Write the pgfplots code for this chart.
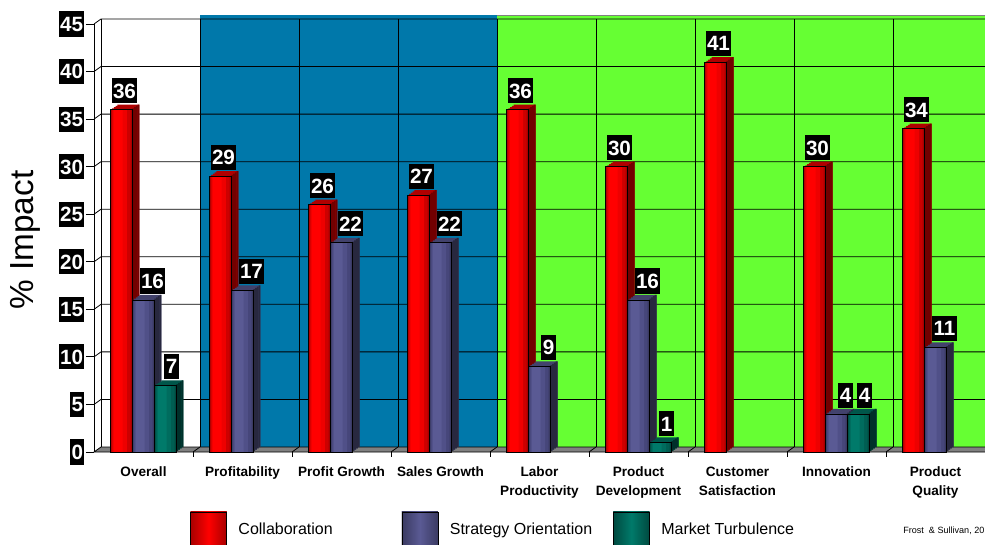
\documentclass[border=0pt]{standalone}
\usepackage{pgfplots}
\usepackage{pgfplotstable}
\pgfplotsset{compat=1.18}
\usepackage{fontspec}
\setmainfont{Liberation Sans}
\definecolor{panelblue}{HTML}{0078AA}
\definecolor{panelgreen}{HTML}{66FF33}
% red
\definecolor{red0}{HTML}{A80000}
\definecolor{red1}{HTML}{CC0000}
\definecolor{red2}{HTML}{EE0000}
\definecolor{red3}{HTML}{FF0000}
\definecolor{redT}{HTML}{B00000}
\definecolor{redS}{HTML}{720000}
% gray-blue
\definecolor{gray0}{HTML}{3A3A62}
\definecolor{gray1}{HTML}{46467A}
\definecolor{gray2}{HTML}{505088}
\definecolor{gray3}{HTML}{5A5A94}
\definecolor{grayT}{HTML}{42426C}
\definecolor{grayS}{HTML}{28283F}
% teal
\definecolor{teal0}{HTML}{004A40}
\definecolor{teal1}{HTML}{005E52}
\definecolor{teal2}{HTML}{006C5E}
\definecolor{teal3}{HTML}{007A6A}
\definecolor{tealT}{HTML}{00564A}
\definecolor{tealS}{HTML}{00302A}
\tikzset{
  extrude/.style={
    preaction={fill=#1, draw=none, transform canvas={shift={(1.3125pt,0.9375pt)}}},
    preaction={fill=#1, draw=none, transform canvas={shift={(2.625pt,1.875pt)}}},
    preaction={fill=#1, draw=none, transform canvas={shift={(3.9375pt,2.8125pt)}}},
    preaction={fill=#1, draw=none, transform canvas={shift={(5.25pt,3.75pt)}}},
  },
  lbl/.style={fill=black, text=white, font=\bfseries\fontsize{15.5}{15.5}\selectfont,
    inner xsep=1pt, inner ysep=3.9pt, text height=11pt, text depth=0pt},
}
\pgfplotsset{
  stripe/.style n args={3}{forget plot, draw=none, fill=#1, bar width=#2, bar shift=#3},
}
\newcommand{\legsq}[2]{%
  \shade[shading=axis, left color=#1, middle color=#2, right color=#1, shading angle=90] (0pt,-13.5pt) rectangle (27pt,13.5pt);
  \shade[left color=#1, right color=#1, middle color=#2] (0pt,-13.5pt) rectangle (27pt,13.5pt);
  \draw[black, line width=0.4pt, fill=none] (0pt,-13.5pt) rectangle (27pt,13.5pt);}
\pgfplotstableread{
x y
0 36
1 29
2 26
3 27
4 36
5 30
6 41
7 30
8 34
}\collab
\pgfplotstableread{
x y
0 16
1 17
2 22
3 22
4 9
5 16
7 4
8 11
}\strategy
\pgfplotstableread{
x y
0 7
5 1
7 4
}\turbulence
\begin{document}
\begin{tikzpicture}[x=1pt,y=1pt]
\useasboundingbox (0,0) rectangle (738.75,408);
\clip (0,0) rectangle (738.75,408);
\begin{axis}[
  at={(70.5pt,69pt)}, anchor=south west,
  scale only axis, width=668.25pt, height=321pt,
  xmin=-0.5, xmax=8.5, ymin=0, ymax=45,
  clip=false,
  axis line style={draw=none},
  ybar=0pt, bar width=16.5pt,
  ytick={0,5,...,45},
  ytick pos=left, xtick pos=bottom,
  tick align=outside,
  major tick length=6pt,
  ytick style={black, line width=0.6pt},
  xtick={0,...,8},
  major x tick style={draw=none},
  xticklabels={Overall, Profitability, Profit Growth, Sales Growth, Labor\\Productivity, Product\\Development, Customer\\Satisfaction, Innovation, Product\\Quality},
  xticklabel style={align=center, font=\bfseries\fontsize{10.2}{14.25}\selectfont, anchor=north, yshift=-1.5pt},
  yticklabel style={lbl, anchor=east, xshift=-1pt},
  /pgf/number format/assume math mode=true,
  ylabel={\% Impact},
  every axis y label/.style={at={(axis description cs:-0.0769,0.4953)}, rotate=90, anchor=center, font=\fontsize{25}{25}\selectfont},
  every node near coord/.append style={lbl, anchor=south, yshift=4.5pt},
  legend columns=3,
  legend cell align=left,
  legend style={at={(axis description cs:0.10775,-0.1822)}, anchor=west, draw=none, fill=none, inner sep=0pt,
    font=\fontsize{12}{12}\selectfont,
    /tikz/every odd column/.append style={column sep=6.75pt},
    /tikz/every even column/.append style={column sep=0pt}},
]
% back wall panels
\fill[panelblue] ([shift={(5.25pt,3.75pt)}]axis cs:0.5,0) rectangle ([shift={(5.25pt,6.75pt)}]axis cs:3.5,45);
\fill[panelgreen] ([shift={(5.25pt,3.75pt)}]axis cs:3.5,0) rectangle ([shift={(5.25pt,6.75pt)}]axis cs:8.5,45);
\draw[gray, line width=0.6pt] ([shift={(5.25pt,6.75pt)}]axis cs:3.5,45) -- ([shift={(5.25pt,6.75pt)}]axis cs:8.5,45);
% gridlines
\pgfplotsinvokeforeach{5,10,...,45}{
  \draw[black, line width=0.6pt] (axis cs:-0.5,#1) -- ([shift={(5.25pt,3.75pt)}]axis cs:-0.5,#1) -- ([shift={(5.25pt,3.75pt)}]axis cs:8.5,#1);
}
\pgfplotsinvokeforeach{0.5,1.5,...,7.5}{
  \draw[black, line width=0.6pt] ([shift={(5.25pt,3.75pt)}]axis cs:#1,0) -- ([shift={(5.25pt,3.75pt)}]axis cs:#1,45);
}
% wall edges
\draw[black, line width=0.6pt] (axis cs:-0.5,0) -- (axis cs:-0.5,45);
\draw[black, line width=0.6pt] ([shift={(5.25pt,3.75pt)}]axis cs:-0.5,0) -- ([shift={(5.25pt,3.75pt)}]axis cs:-0.5,45);
% floor
\fill[gray] (axis cs:-0.5,0) -- (axis cs:8.5,0) -- ([shift={(5.25pt,3.75pt)}]axis cs:8.5,0) -- ([shift={(5.25pt,3.75pt)}]axis cs:-0.5,0) -- cycle;
\draw[black, line width=0.6pt] ([shift={(5.25pt,3.75pt)}]axis cs:8.5,0) -- ([shift={(5.25pt,3.75pt)}]axis cs:-0.5,0) -- (axis cs:-0.5,0) -- (axis cs:8.5,0);
\pgfplotsinvokeforeach{0.5,1.5,...,7.5}{
  \draw[black, line width=0.6pt] (axis cs:#1,0) -- ([shift={(5.25pt,3.75pt)}]axis cs:#1,0);
  \draw[black, line width=0.6pt] (axis cs:#1,0) -- ++(0pt,-3.75pt);
}
% ===== Collaboration =====
\addplot[forget plot, draw=none, fill=none, bar shift=-16.5pt, extrude=redT] table {\collab};
\addplot[forget plot, draw=none, fill=none, bar width=1.4pt, bar shift=-8.95pt, extrude=redS] table {\collab};
\addplot[draw=none, fill=red0, bar shift=-16.5pt,
  legend image code/.code={\legsq{red0}{red3}}]
  table {\collab};
\addplot[stripe={red1}{14.355pt}{-16.7475pt}] table {\collab};
\addplot[stripe={red2}{10.725pt}{-17.7375pt}] table {\collab};
\addplot[stripe={red3}{6.6pt}{-18.975pt}] table {\collab};
\addplot[forget plot, draw=black, line width=0.4pt, fill=none, bar shift=-16.5pt,
  nodes near coords, every node near coord/.append style={xshift=2.25pt}] table {\collab};
% ===== Strategy Orientation =====
\addplot[forget plot, draw=none, fill=none, bar shift=0pt, extrude=grayT] table {\strategy};
\addplot[forget plot, draw=none, fill=none, bar width=1.4pt, bar shift=7.55pt, extrude=grayS] table {\strategy};
\addplot[draw=none, fill=gray0, bar shift=0pt,
  legend image code/.code={\legsq{gray0}{gray3}}]
  table {\strategy};
\addplot[stripe={gray1}{14.355pt}{-0.2475pt}] table {\strategy};
\addplot[stripe={gray2}{10.725pt}{-1.2375pt}] table {\strategy};
\addplot[stripe={gray3}{6.6pt}{-2.475pt}] table {\strategy};
\addplot[forget plot, draw=black, line width=0.4pt, fill=none, bar shift=0pt,
  nodes near coords, every node near coord/.append style={xshift=6.75pt}] table {\strategy};
% ===== Market Turbulence =====
\addplot[forget plot, draw=none, fill=none, bar shift=16.5pt, extrude=tealT] table {\turbulence};
\addplot[forget plot, draw=none, fill=none, bar width=1.4pt, bar shift=24.05pt, extrude=tealS] table {\turbulence};
\addplot[draw=none, fill=teal0, bar shift=16.5pt,
  legend image code/.code={\legsq{teal0}{teal3}}]
  table {\turbulence};
\addplot[stripe={teal1}{14.355pt}{16.2525pt}] table {\turbulence};
\addplot[stripe={teal2}{10.725pt}{15.2625pt}] table {\turbulence};
\addplot[stripe={teal3}{6.6pt}{14.025pt}] table {\turbulence};
\addplot[forget plot, draw=black, line width=0.4pt, fill=none, bar shift=16.5pt,
  nodes near coords, every node near coord/.append style={xshift=4.5pt}] table {\turbulence};
\legend{\makebox[120.4pt][l]{Collaboration}, \makebox[120.4pt][l]{Strategy Orientation}, \makebox[120.4pt][l]{Market Turbulence}}
\end{axis}
\node[anchor=west, font=\fontsize{6.8}{6.8}\selectfont, inner sep=0pt] at (677.25,9.75) {Frost\ \ \& Sullivan, 20};
\end{tikzpicture}
\end{document}
